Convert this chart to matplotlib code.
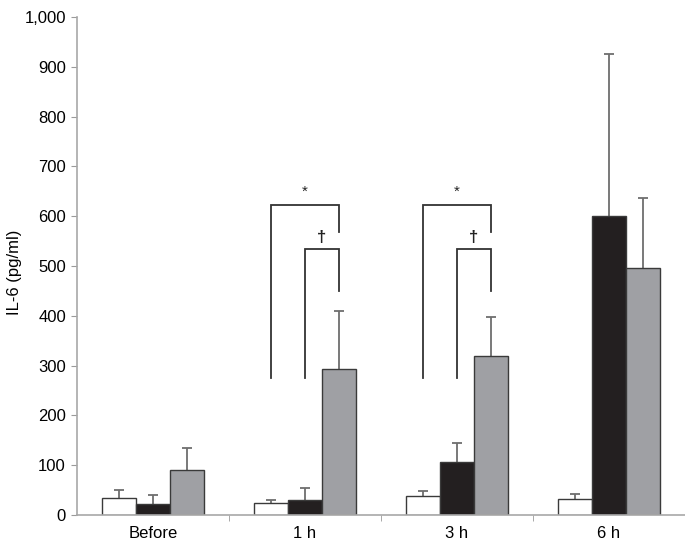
import numpy as np
import matplotlib
matplotlib.use("Agg")
import matplotlib.pyplot as plt

plt.rcParams['font.family'] = ['Liberation Sans', 'DejaVu Sans']

# data
groups = ['Before', '1 h', '3 h', '6 h']
white_vals = [35, 24, 38, 32]
white_err = [15, 6, 10, 11]
black_vals = [22, 30, 107, 600]
black_err = [18, 25, 38, 325]
gray_vals = [90, 293, 320, 495]
gray_err = [45, 117, 77, 142]

# significance brackets: (group, left bar index, top, left leg bottom, right leg bottom, label)
brackets = [
    (1, 0, 622, 275, 568, '*'),
    (1, 1, 534, 275, 450, '†'),
    (2, 0, 622, 275, 568, '*'),
    (2, 1, 534, 275, 450, '†'),
]

fig = plt.figure(figsize=(6.85, 5.45), dpi=100)
ax = fig.add_axes([0.1124, 0.055, 0.8876, 0.914])

x = np.arange(len(groups))
w = 0.224
edge = '#3a3a3a'
ecol = '#6e6e6e'

series = [(white_vals, white_err, 'white'),
          (black_vals, black_err, '#231f20'),
          (gray_vals, gray_err, '#9fa0a4')]
for k, (vals, err, col) in enumerate(series):
    xs = x + (k - 1) * w
    vals = np.array(vals)
    tops = vals + np.array(err)
    # only the upper half of the error bar, cap at the top
    ax.vlines(xs, vals, tops, color=ecol, lw=1.3, zorder=1)
    ax.plot(xs, tops, ls='none', marker='_', ms=7, mew=1.3, color=ecol, zorder=1)
    ax.bar(xs, vals, w, color=col, edgecolor=edge, linewidth=1.0, zorder=2)

for g, i, top, lbot, rbot, lab in brackets:
    xl = g + (i - 1) * w
    xr = g + w
    ax.plot([xl, xl, xr, xr], [lbot, top, top, rbot], color='#333333', lw=1.3,
            solid_joinstyle='miter', zorder=3)
    if lab == '*':
        ax.text((xl + xr) / 2, top + 12, lab, ha='center', va='bottom',
                fontsize=11, color='#222222')
    else:
        ax.text((xl + xr) / 2, top + 8, lab, ha='center', va='bottom',
                fontsize=12, fontweight='bold', color='#222222')

ax.set_xlim(-0.5, 3.5)
ax.set_ylim(0, 1000)
ax.set_yticks(np.arange(0, 1001, 100))
ax.set_yticklabels(['{:,}'.format(v) for v in range(0, 1001, 100)], fontsize=12)
ax.set_xticks(x)
ax.set_xticklabels(groups, fontsize=12)
ax.set_xticks(np.arange(0.5, 3.6, 1), minor=True)
ax.tick_params(axis='x', which='major', length=0, pad=8)
ax.tick_params(axis='x', which='minor', length=4, color='#9a9a9a', direction='out')
ax.tick_params(axis='y', length=4, color='#9a9a9a', direction='out', pad=4)
for s in ['top', 'right']:
    ax.spines[s].set_visible(False)
for s in ['left', 'bottom']:
    ax.spines[s].set_color('#a8a8a8')
    ax.spines[s].set_linewidth(1.2)

fig.text(15 / 685, 0.5, 'IL-6 (pg/ml)', rotation=90, ha='center', va='center',
         fontsize=12)

fig.savefig('out.png', dpi=100)
